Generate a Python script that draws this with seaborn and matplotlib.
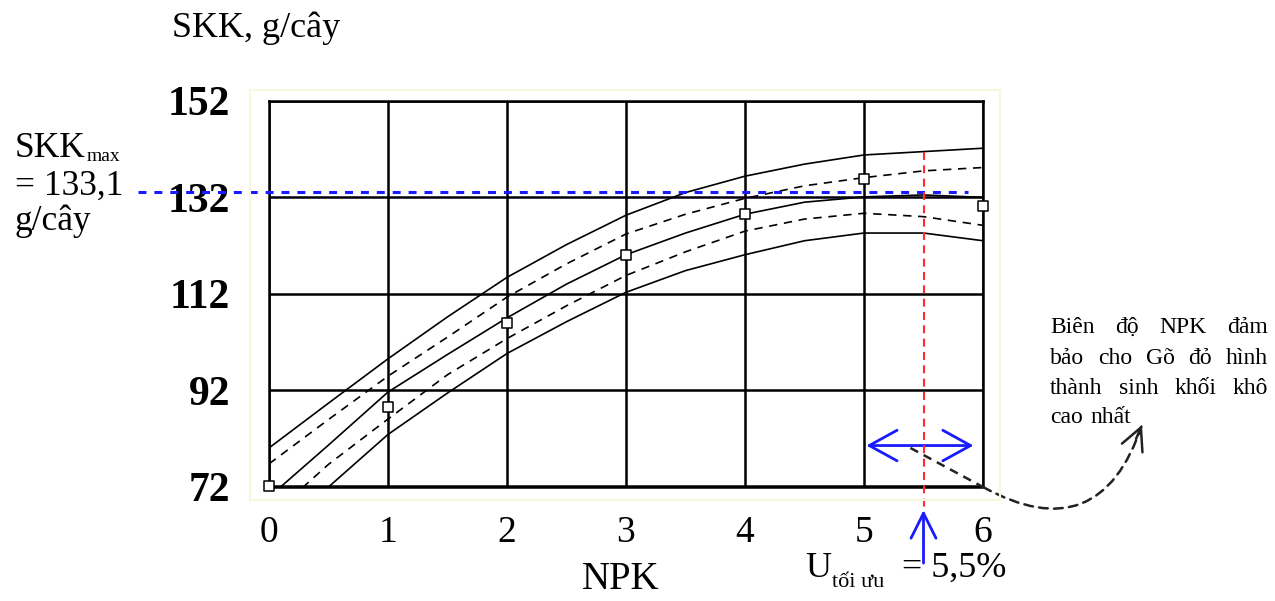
import matplotlib
matplotlib.use("Agg")
import matplotlib.pyplot as plt
import seaborn as sns
import pandas as pd
from matplotlib.patches import Rectangle

# ---------------- data ----------------
npk = [0, 0.5, 1, 1.5, 2, 2.5, 3, 3.5, 4, 4.5, 5, 5.5, 6]
upper_pred = [80.0, 89.3, 98.5, 107.2, 115.4, 122.2, 128.3, 133.0, 136.4, 138.9, 140.8, 141.5, 142.2]
upper_conf = [76.7, 85.9, 94.9, 103.0, 111.3, 118.2, 124.4, 128.5, 131.8, 134.4, 136.1, 137.5, 138.2]
fit_curve = [69.8, 80.6, 91.6, 99.4, 107.0, 114.0, 120.1, 124.6, 128.5, 131.0, 132.1, 132.5, 132.0]
lower_conf = [65.5, 76.6, 86.0, 95.2, 102.7, 109.5, 115.8, 120.7, 125.0, 127.5, 128.7, 128.0, 126.2]
lower_pred = [60.7, 71.9, 82.8, 91.4, 99.6, 106.2, 112.3, 116.8, 120.1, 123.0, 124.6, 124.6, 123.0]

obs_npk = [0, 1, 2, 3, 4, 5, 6]
obs_skk = [72.0, 88.4, 106.0, 120.1, 128.5, 135.8, 130.3]

x_ticks = [0, 1, 2, 3, 4, 5, 6]
y_ticks = [72, 92, 112, 132, 152]

skk_max = 133.1
u_opt = 5.5
npk_range = (5.02, 5.92)

note_lines = [["Biên", "độ", "NPK", "đảm"],
              ["bảo", "cho", "Gõ", "đỏ", "hình"],
              ["thành", "sinh", "khối", "khô"],
              ["cao", "nhất"]]

# ---------------- figure ----------------
sns.set_theme(style="white")
plt.rcParams["font.family"] = ["Liberation Serif", "DejaVu Serif"]
plt.rcParams["text.color"] = "black"
plt.rcParams["xtick.color"] = "black"
plt.rcParams["ytick.color"] = "black"
plt.rcParams["axes.labelcolor"] = "black"

W, H = 1275, 601
fig = plt.figure(figsize=(W / 100, H / 100), dpi=100)
fig.patch.set_facecolor("white")

def fx(px):
    return px / W

def fy(py):
    return 1 - py / H

ax = fig.add_axes([fx(269), fy(486.5), (983 - 269) / W, (486.5 - 101) / H])
ax.set_facecolor("white")

# faint frame around plot area
fig.patches.append(Rectangle((fx(250), fy(500)), (1000 - 250) / W, (500 - 90) / H,
                             transform=fig.transFigure, fill=False,
                             edgecolor="#f7f7dc", lw=1.5, zorder=0))

curves = pd.DataFrame({"npk": npk, "upper_pred": upper_pred, "upper_conf": upper_conf,
                       "fit": fit_curve, "lower_conf": lower_conf, "lower_pred": lower_pred})
dash = (0, (5, 4))
styles = {"upper_pred": "-", "upper_conf": dash, "fit": "-",
          "lower_conf": dash, "lower_pred": "-"}
for col, ls in styles.items():
    sns.lineplot(data=curves, x="npk", y=col, ax=ax, color="black", lw=1.2,
                 linestyle=ls, zorder=3)

sns.scatterplot(x=obs_npk, y=obs_skk, ax=ax, marker="s", s=48, color="white",
                edgecolor="black", linewidth=1.1, zorder=6, clip_on=False)

ax.set_xlim(0, 6)
ax.set_ylim(72, 152)
ax.set_xticks(x_ticks)
ax.set_yticks(y_ticks)
ax.set_xticklabels([str(t) for t in x_ticks], fontsize=27)
ax.set_yticklabels([str(t) for t in y_ticks], fontsize=30, fontweight="bold")
ax.tick_params(axis="x", length=0, pad=21, colors="black")
ax.tick_params(axis="y", length=0, pad=28, colors="black")
ax.set_xlabel("")
ax.set_ylabel("")
ax.grid(True, color="black", lw=1.8, zorder=1)
ax.set_axisbelow(True)
for sp in ax.spines.values():
    sp.set_color("black")
    sp.set_linewidth(1.8)

# blue dashed SKKmax line
ax.plot([-1.10, 5.87], [skk_max, skk_max], color="#1a1aff", lw=2.2,
        linestyle=(0, (2.6, 2.6)), clip_on=False, zorder=4)

# red dashed vertical optimum line
ax.plot([u_opt, u_opt], [141.4, 67.0], color="#ff2a2a", lw=1.5,
        linestyle=(0, (3.8, 2.6)), clip_on=False, zorder=4)

# blue up arrow
ax.annotate("", xy=(u_opt, 67.1), xytext=(u_opt, 56.1), annotation_clip=False,
            arrowprops=dict(arrowstyle="->,head_length=0.9,head_width=0.45",
                            color="#1a1aff", lw=2.0, shrinkA=0, shrinkB=0,
                            mutation_scale=20))

# blue double arrow (NPK range)
ax.annotate("", xy=(npk_range[1], 80.5), xytext=(npk_range[0], 80.5), annotation_clip=False,
            arrowprops=dict(arrowstyle="<->,head_length=1.0,head_width=0.55",
                            color="#1a1aff", lw=2.0, shrinkA=0, shrinkB=0,
                            mutation_scale=20))

# black dashed pointer to note
ax.plot([5.39, 6.0], [80.0, 71.9], color="#222222", lw=1.8,
        linestyle=(0, (3.5, 2.5)), clip_on=False, zorder=4)
ax.annotate("", xy=(7.336, 84.78), xytext=(6.0, 71.9), annotation_clip=False,
            arrowprops=dict(arrowstyle="-", connectionstyle="arc3,rad=0.6",
                            color="#222222", lw=1.8, linestyle=(0, (3.5, 2.5)),
                            shrinkA=0, shrinkB=0))
ax.annotate("", xy=(7.336, 84.78), xytext=(7.286, 81.87), annotation_clip=False,
            arrowprops=dict(arrowstyle="->,head_length=0.8,head_width=0.4",
                            color="#222222", lw=1.8, shrinkA=0, shrinkB=0,
                            mutation_scale=20))

# ---------------- texts ----------------
renderer = fig.canvas.get_renderer()

fig.text(fx(172), fy(37), "SKK, g/cây", fontsize=26, va="baseline", ha="left")
fig.text(fx(582), fy(589), "NPK", fontsize=28, va="baseline", ha="left")

skk_t = fig.text(fx(15), fy(157), "SKK", fontsize=25.5, va="baseline", ha="left")
skk_w = skk_t.get_window_extent(renderer).width
fig.text(fx(15 + skk_w + 1), fy(161), "max", fontsize=14, va="baseline", ha="left")
fig.text(fx(15), fy(195), "= 133,1", fontsize=25.5, va="baseline", ha="left")
fig.text(fx(15), fy(230), "g/cây", fontsize=25.5, va="baseline", ha="left")

u_t = fig.text(fx(805), fy(577), "U", fontsize=26, va="baseline", ha="left")
u_w = u_t.get_window_extent(renderer).width
fig.text(fx(805 + u_w + 1), fy(587), "tối ưu", fontsize=16, va="baseline", ha="left")
fig.text(fx(902), fy(577), "= 5,5%", fontsize=26, va="baseline", ha="left")

# justified note text
left, right = 1050, 1268
baselines = [333, 364, 394, 423]
for i, words in enumerate(note_lines):
    texts = [fig.text(0, 0, w, fontsize=17, va="baseline", ha="left") for w in words]
    widths = [t.get_window_extent(renderer).width for t in texts]
    if i < len(note_lines) - 1 and len(words) > 1:
        gap = (right - left - sum(widths)) / (len(words) - 1)
    else:
        gap = 8
    x = left
    for t, w in zip(texts, widths):
        t.set_position((fx(x), fy(baselines[i])))
        x += w + gap

fig.savefig("out.png", dpi=100, facecolor="white")
